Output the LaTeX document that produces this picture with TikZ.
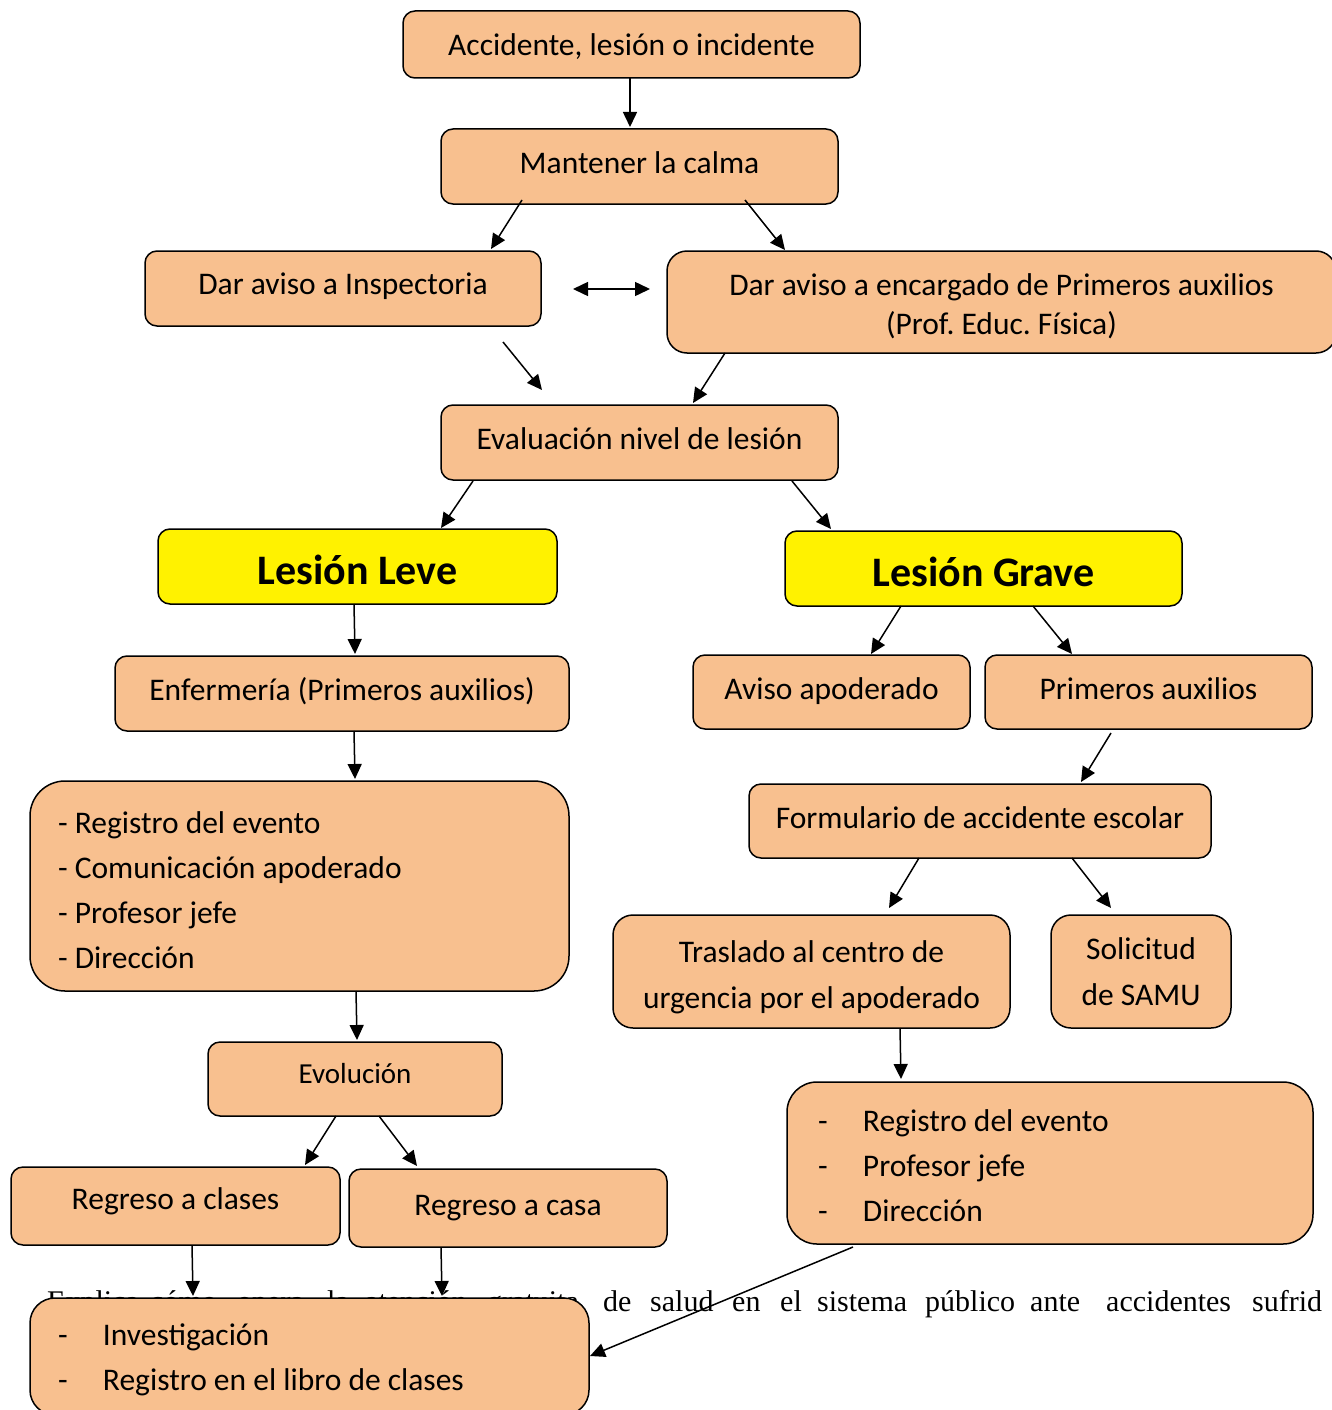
\documentclass[tikz,border=0pt]{standalone}
\usepackage{fontspec}
\setmainfont{Carlito}
\newfontfamily\serifw{Liberation Serif}
\usetikzlibrary{arrows.meta}
\definecolor{peach}{HTML}{F8C08F}
\newcommand\tshift[2]{\raisebox{#1}[\height][\depth]{#2}}
\begin{document}
\frenchspacing
\begin{tikzpicture}[x=1pt,y=-1pt,
  box/.style={draw=black, line width=1.5pt, fill=peach, rounded corners=12pt,
    inner sep=0pt, align=center, font=\fontsize{31.5}{45}\selectfont},
  ybox/.style={box, fill=yellow, font=\fontsize{42}{50}\selectfont\bfseries},
  arr/.style={line width=1.5pt, -{Triangle[length=15pt,width=14pt]}},
  darr/.style={line width=1.5pt, {Triangle[length=15pt,width=14pt]}-{Triangle[length=15pt,width=14pt]}},
  sword/.style={font=\serifw\fontsize{30}{34}\selectfont, inner sep=0pt, anchor=base west}]
\useasboundingbox (0,0) rectangle (1332,1410);
\clip (0,0) rectangle (1332,1410);

% background serif text line (partly hidden)
\foreach \x/\w [count=\i] in {47/Explica, 150/cómo, 237/opera, 327/la, 365/atención, 487/gratuita, 603/de, 650/salud, 732/en, 780/el, 817/sistema, 925/público, 1030/ante, 1106/accidentes, 1252/sufrid}
  \node[sword] (w\i) at (\x,1311) {\w};

\node[box, minimum width=457pt, minimum height=67pt] (acc) at (631.5,44.5) {\tshift{-2pt}{Accidente, lesión o incidente}};
\node[box, minimum width=397pt, minimum height=75pt] (calma) at (639.5,166.5) {\tshift{4pt}{Mantener la calma}};
\node[box, minimum width=396pt, minimum height=75pt] (insp) at (343,288.5) {\tshift{2pt}{Dar aviso a Inspectoria}};
\node[box, minimum width=669pt, minimum height=102pt, rounded corners=20pt, font=\fontsize{31.5}{39}\selectfont] (enc) at (1001.5,302)
  {\tshift{-5pt}{\begin{tabular}{@{}c@{}}Dar aviso a encargado de Primeros auxilios\\(Prof. Educ. Física)\end{tabular}}};
\node[box, minimum width=397pt, minimum height=75pt] (eval) at (639.5,442.5) {\tshift{4pt}{Evaluación nivel de lesión}};
\node[ybox, minimum width=399pt, minimum height=75pt] (leve) at (357.5,566.5) {\tshift{-3pt}{Lesión Leve}};
\node[ybox, minimum width=397pt, minimum height=75pt] (grave) at (983.5,568.5) {\tshift{-3pt}{Lesión Grave}};
\node[box, minimum width=454pt, minimum height=75pt] (enf) at (342,693.5) {\tshift{2pt}{Enfermería (Primeros auxilios)}};
\node[box, minimum width=277pt, minimum height=74pt] (aviso) at (831.5,692) {\tshift{1pt}{Aviso apoderado}};
\node[box, minimum width=327pt, minimum height=74pt] (paux) at (1148.5,692) {\tshift{3pt}{Primeros auxilios}};
\node[box, minimum width=539pt, minimum height=210pt, rounded corners=35pt] (regl) at (299.5,886)
  {\tshift{-4pt}{\parbox{483pt}{\raggedright - Registro del evento\\- Comunicación apoderado\\- Profesor jefe\\- Dirección}}};
\node[box, minimum width=462pt, minimum height=74pt] (form) at (980,821) {\tshift{3pt}{Formulario de accidente escolar}};
\node[box, minimum width=397pt, minimum height=113pt, rounded corners=20pt, font=\fontsize{31.5}{46}\selectfont] (tras) at (811.5,971.5)
  {\tshift{-5pt}{\begin{tabular}{@{}c@{}}Traslado al centro de\\urgencia por el apoderado\end{tabular}}};
\node[box, minimum width=180pt, minimum height=113pt, rounded corners=20pt, font=\fontsize{31.5}{46}\selectfont] (samu) at (1141,971.5)
  {\tshift{-2pt}{\begin{tabular}{@{}c@{}}Solicitud\\de SAMU\end{tabular}}};
\node[box, minimum width=294pt, minimum height=74pt, font=\fontsize{29}{40}\selectfont] (evol) at (355,1079) {\tshift{5pt}{Evolución}};
\node[box, minimum width=329pt, minimum height=78pt] (clases) at (175.5,1206) {\tshift{5pt}{Regreso a clases}};
\node[box, minimum width=318pt, minimum height=78pt] (casa) at (508,1208) {Regreso a casa};
\node[box, minimum width=526pt, minimum height=162pt, rounded corners=30pt] (regr) at (1050,1163)
  {\tshift{-3pt}{\parbox{464pt}{\raggedright\makebox[45pt][l]{-}Registro del evento\\\makebox[45pt][l]{-}Profesor jefe\\\makebox[45pt][l]{-}Dirección}}};
\node[box, minimum width=559pt, minimum height=117pt, rounded corners=25pt] (fin) at (309.5,1356.5)
  {\tshift{-3pt}{\parbox{503pt}{\raggedright\makebox[45pt][l]{-}Investigación\\\makebox[45pt][l]{-}Registro en el libro de clases}}};

% connector end points
\coordinate (a1) at (630,78);   \coordinate (b1) at (630,127);
\coordinate (a2) at (522,200);  \coordinate (b2) at (491,249);
\coordinate (a3) at (745,200);  \coordinate (b3) at (785,250);
\coordinate (a4) at (573,289);  \coordinate (b4) at (650,289);
\coordinate (a5) at (503,342);  \coordinate (b5) at (542,390);
\coordinate (a6) at (725,353);  \coordinate (b6) at (693,403);
\coordinate (a7) at (473,481);  \coordinate (b7) at (441,528);
\coordinate (a8) at (792,481);  \coordinate (b8) at (831,529);
\coordinate (a9) at (354,604);  \coordinate (b9) at (355,654);
\coordinate (a10) at (901,606); \coordinate (b10) at (871,654);
\coordinate (a11) at (1033,606);\coordinate (b11) at (1072,654);
\coordinate (a12) at (354,731); \coordinate (b12) at (355,779);
\coordinate (a13) at (1111,733);\coordinate (b13) at (1081,782);
\coordinate (a14) at (919,858); \coordinate (b14) at (889,908);
\coordinate (a15) at (1072,858);\coordinate (b15) at (1111,908);
\coordinate (a16) at (356,991); \coordinate (b16) at (357,1040);
\coordinate (a17) at (336,1116);\coordinate (b17) at (305,1165);
\coordinate (a18) at (379,1116);\coordinate (b18) at (417,1166);
\coordinate (a19) at (900,1028);\coordinate (b19) at (901,1079);
\coordinate (a20) at (192,1245);\coordinate (b20) at (193,1296);
\coordinate (a21) at (441,1247);\coordinate (b21) at (442,1296);
\coordinate (a22) at (853,1247);\coordinate (b22) at (590,1356);

\foreach \i in {1,2,3,5,6,7,8,9,10,11,12,13,14,15,16,17,18,19,20,21,22}
  \draw[arr] (a\i) -- (b\i);
\draw[darr] (a4) -- (b4);
\end{tikzpicture}
\end{document}
